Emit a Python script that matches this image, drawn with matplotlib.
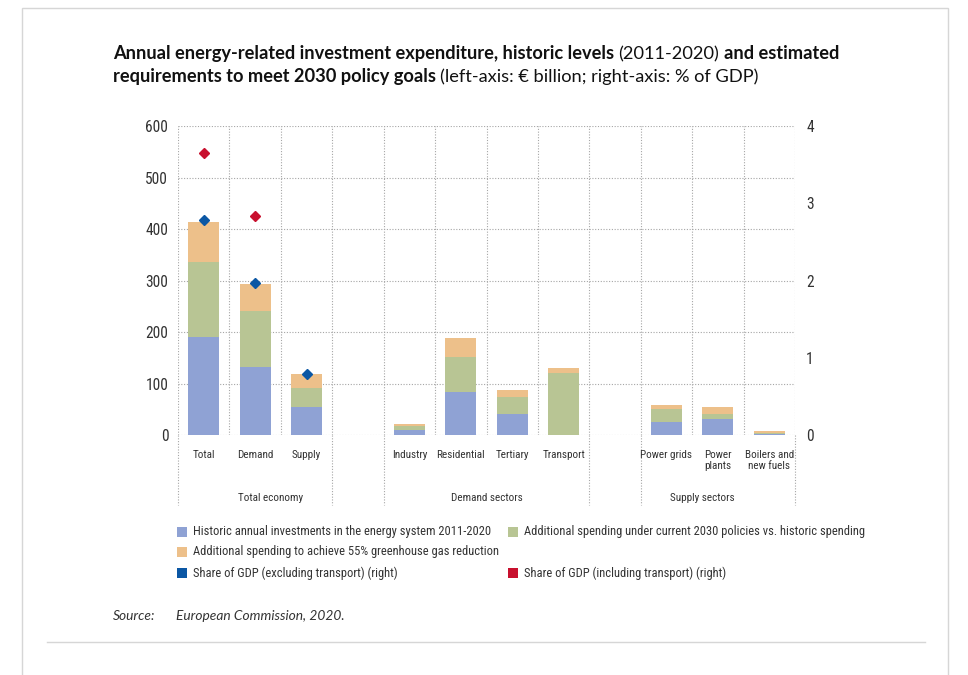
import numpy as np
import matplotlib
matplotlib.use("Agg")
import matplotlib.pyplot as plt
import matplotlib.transforms as mtransforms
from matplotlib import font_manager
from matplotlib.patches import Rectangle
from matplotlib.lines import Line2D

# ---- data (EUR billion per year, % of GDP) ----
groups = ["Total economy", "Demand sectors", "Supply sectors"]
group_cats = [
    ["Total", "Demand", "Supply"],
    ["Industry", "Residential", "Tertiary", "Transport"],
    ["Power grids", "Power\nplants", "Boilers and\nnew fuels"],
]
historic = [190, 133, 55, 9, 84, 41, 0, 25, 31, 2]
current_2030 = [145, 108, 37, 8, 67, 33, 120, 26, 10, 1]
extra_55 = [79, 53, 26, 4, 38, 13, 10, 7, 14, 4]
gdp_excl_transport = [2.78, 1.97, 0.79, None, None, None, None, None, None, None]
gdp_incl_transport = [3.65, 2.84, None, None, None, None, None, None, None, None]

legend_labels = [
    "Historic annual investments in the energy system 2011-2020",
    "Additional spending under current 2030 policies vs. historic spending",
    "Additional spending to achieve 55% greenhouse gas reduction",
    "Share of GDP (excluding transport) (right)",
    "Share of GDP (including transport) (right)",
]
left_ticks = [0, 100, 200, 300, 400, 500, 600]
right_ticks = [0, 1, 2, 3, 4]

c_hist = "#8fa2d4"
c_curr = "#b8c594"
c_extra = "#edc08a"
c_excl = "#0b57a4"
c_incl = "#c8102e"
grid_c = "#a6a6a6"
txt_c = "#333333"

# ---- fonts ----
names = {f.name for f in font_manager.fontManager.ttflist}


def pick(*cands):
    for c in cands:
        if c in names:
            return c
    return "DejaVu Sans"


narrow = pick("Liberation Sans Narrow", "Roboto Condensed", "Open Sans Condensed", "Lato")
head = pick("Lato", "Open Sans", "Roboto")

W, H = 968, 675
fig = plt.figure(figsize=(W / 100, H / 100), dpi=100)
renderer = fig.canvas.get_renderer()


def width_px(s, **kw):
    t = fig.text(0, 0, s, **kw)
    w = t.get_window_extent(renderer).width
    t.remove()
    return w


def fit(s, target, **kw):
    return 10 * target / width_px(s, fontsize=10, **kw)


def fx(px):
    return px / W


def fy(py):
    return 1 - py / H


# ---- positions: one empty slot between groups ----
pos = []
slot = 0
group_pos = []
for cats in group_cats:
    p = list(range(slot, slot + len(cats)))
    pos += p
    group_pos.append(p)
    slot += len(cats) + 1
pos = np.array(pos)
labels = [c for cats in group_cats for c in cats]
nslots = slot - 1

ax = fig.add_axes([fx(178), fy(435), fx(795 - 178), (435 - 126) / H])
ax.set_xlim(-0.5, nslots - 0.5)
ax.set_ylim(0, 600)
for s in ax.spines.values():
    s.set_visible(False)

dot = (0, (1, 1.5))
for v in left_ticks:
    ax.axhline(v, color=grid_c, lw=0.8, ls=dot, zorder=0)
for b in np.arange(-0.5, nslots, 1.0):
    ax.axvline(b, color=grid_c, lw=0.8, ls=dot, zorder=0)

# separators that run down through the category labels
xt = mtransforms.blended_transform_factory(ax.transData, ax.transAxes)
seps = [-0.5, nslots - 0.5]
for p in group_pos:
    seps += [p[0] - 0.5, p[-1] + 0.5]
for b in sorted(set(seps)):
    ax.plot([b, b], [0, -0.227], transform=xt, color=grid_c, lw=0.8, ls=dot, clip_on=False)

bw = 0.6
h = np.array(historic, float)
c = np.array(current_2030, float)
e = np.array(extra_55, float)
ax.bar(pos, h, bw, color=c_hist, zorder=2)
ax.bar(pos, c, bw, bottom=h, color=c_curr, zorder=2)
ax.bar(pos, e, bw, bottom=h + c, color=c_extra, zorder=2)

ax2 = ax.twinx()
ax2.set_ylim(0, 4)
for s in ax2.spines.values():
    s.set_visible(False)
ex = np.array([np.nan if v is None else v for v in gdp_excl_transport])
inc = np.array([np.nan if v is None else v for v in gdp_incl_transport])
ax2.plot(pos, ex, "D", color=c_excl, ms=5.2, ls="none", zorder=3)
ax2.plot(pos, inc, "D", color=c_incl, ms=5.2, ls="none", zorder=3)

tick_fs = fit("600", 21, family=narrow) * 1.08
ax.set_yticks(left_ticks)
ax.set_xticks([])
ax.tick_params(axis="y", length=0, pad=7, labelsize=tick_fs, labelcolor=txt_c)
ax2.set_yticks(right_ticks)
ax2.tick_params(axis="y", length=0, pad=8, labelsize=tick_fs, labelcolor=txt_c)
for t in ax.get_yticklabels() + ax2.get_yticklabels():
    t.set_family(narrow)

lab_fs = fit("Residential", 46, family=narrow) * 1.05
for p, lab in zip(pos, labels):
    ax.text(p, -15 / 309, lab, transform=xt, ha="center", va="top", fontsize=lab_fs,
            family=narrow, color=txt_c, linespacing=1.15)
group_x = [1.3, 5.5, 9.7]
for gx, g in zip(group_x, groups):
    ax.text(gx, -63 / 309, g, transform=xt, ha="center", va="center", fontsize=lab_fs,
            family=narrow, color=txt_c)

# ---- title (mixed weights) ----
line1 = [("Annual energy-related investment expenditure, historic levels", "bold"),
         ("(2011-2020)", "normal"), ("and estimated", "bold")]
line2 = [("requirements to meet 2030 policy goals", "bold"),
         ("(left-axis: € billion; right-axis: % of GDP)", "normal")]
sp = width_px("x x", fontsize=10, family=head, weight="bold") - width_px("xx", fontsize=10, family=head, weight="bold")
w10 = sum(width_px(s, fontsize=10, family=head, weight=wt) for s, wt in line1) + 2 * sp
title_fs = 10 * 730 / w10
for (line, base) in [(line1, 59), (line2, 82)]:
    x = 113
    for s, wt in line:
        t = fig.text(fx(x), fy(base), s, fontsize=title_fs, family=head, weight=wt,
                     va="baseline", ha="left", color="#111111")
        x += t.get_window_extent(renderer).width + sp * title_fs / 10

# ---- legend ----
leg_fs = fit(legend_labels[1], 327, family=narrow) * 1.04
entries = [(177, 532, c_hist, 0), (508, 532, c_curr, 1), (177, 552, c_extra, 2),
           (177, 573, c_excl, 3), (508, 573, c_incl, 4)]
for x, y, col, i in entries:
    fig.add_artist(Rectangle((fx(x), fy(y + 5)), 10 / W, 10 / H, transform=fig.transFigure,
                             color=col, lw=0))
    fig.text(fx(x + 16), fy(y), legend_labels[i], fontsize=leg_fs, family=narrow,
             va="center", ha="left", color=txt_c)

# ---- source ----
src_fs = fit("European Commission, 2020.", 169, family=head, style="italic")
fig.text(fx(113), fy(616), "Source:", fontsize=src_fs, family=head, style="italic",
         va="center", color=txt_c)
fig.text(fx(176), fy(616), "European Commission, 2020.", fontsize=src_fs, family=head,
         style="italic", va="center", color=txt_c)

# ---- frame ----
fig.add_artist(Rectangle((fx(22), -0.05), fx(948 - 22), fy(8) + 0.05, transform=fig.transFigure,
                         fill=False, ec="#d6d6d6", lw=1))
fig.add_artist(Line2D([fx(47), fx(925)], [fy(642), fy(642)], transform=fig.transFigure,
                      color="#d6d6d6", lw=1))

fig.savefig("out.png", dpi=100)
